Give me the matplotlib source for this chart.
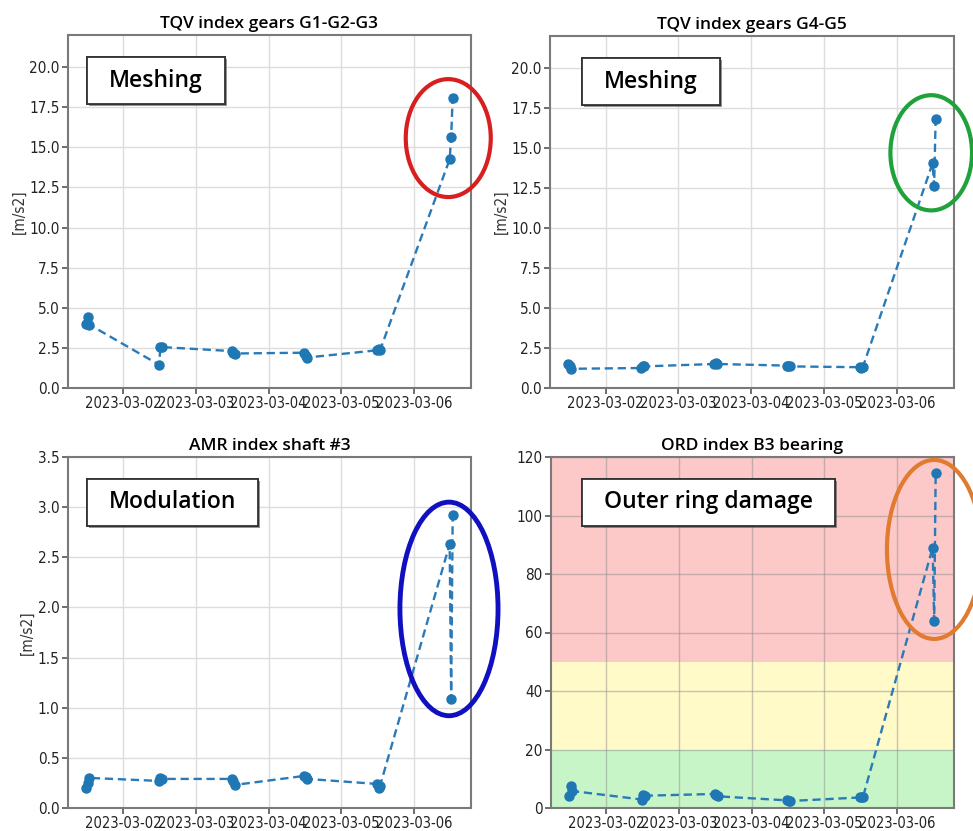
import numpy as np
import pandas as pd
import matplotlib
matplotlib.use('Agg')
import matplotlib.pyplot as plt
import matplotlib.dates as mdates
from matplotlib.patches import Ellipse, Rectangle
from matplotlib import patheffects as pe
from matplotlib import font_manager as fm

# look for a narrow/condensed face for the tick labels
cands = []
for f in fm.fontManager.ttflist:
    key = (f.name + ' ' + f.fname + ' ' + str(f.stretch)).lower()
    if ('condensed' in key or 'narrow' in key) and 'semicondensed' not in key.replace('-', '') \
            and f.style == 'normal':
        cands.append(f)
cands.sort(key=lambda f: (abs((f.weight if isinstance(f.weight, int) else 400) - 350),
                          'extra' in f.fname.lower()))
names = set(f.name for f in fm.fontManager.ttflist)
title_font = 'Open Sans' if 'Open Sans' in names else 'DejaVu Sans'
if cands:
    tick_fp = fm.FontProperties(fname=cands[0].fname)
    xt_size, yt_size = 10.5, 11
    print("condensed:", cands[0].fname)
else:
    tick_fp = fm.FontProperties(family=title_font)
    xt_size, yt_size = 8, 9
    print("no condensed font")

# ---- data (3 readings per day, 6 days) ----
days = ['2023-03-01', '2023-03-02', '2023-03-03', '2023-03-04', '2023-03-05', '2023-03-06']
hours = ['11:45', '12:15', '12:45']
times = pd.to_datetime([f"{d} {h}" for d in days for h in hours])

tqv_g123 = [4.0, 4.45, 3.95,
            1.45, 2.55, 2.55,
            2.3, 2.2, 2.15,
            2.2, 2.0, 1.9,
            2.35, 2.45, 2.35,
            14.25, 15.65, 18.1]
tqv_g45 = [1.5, 1.35, 1.2,
           1.25, 1.4, 1.35,
           1.5, 1.55, 1.5,
           1.4, 1.35, 1.35,
           1.3, 1.25, 1.3,
           14.05, 12.65, 16.8]
amr_s3 = [0.2, 0.25, 0.3,
          0.27, 0.3, 0.29,
          0.29, 0.27, 0.23,
          0.32, 0.31, 0.29,
          0.24, 0.2, 0.22,
          2.63, 1.09, 2.92]
ord_b3 = [4.2, 7.4, 5.8,
          2.9, 4.5, 4.2,
          4.8, 4.3, 4.0,
          2.6, 2.5, 2.4,
          3.6, 3.9, 3.8,
          89.0, 64.0, 114.5]

titles = ['TQV index gears G1-G2-G3', 'TQV index gears G4-G5',
          'AMR index shaft #3', 'ORD index B3 bearing']
labels = ['Meshing', 'Meshing', 'Modulation', 'Outer ring damage']
series = [tqv_g123, tqv_g45, amr_s3, ord_b3]
ylims = [(0, 22), (0, 22), (0, 3.5), (0, 120)]
yticks = [np.arange(0, 20.1, 2.5), np.arange(0, 20.1, 2.5), np.arange(0, 3.51, 0.5), np.arange(0, 121, 20)]
ytick_fmt = ['{:.1f}', '{:.1f}', '{:.1f}', '{:.0f}']
ylabels = ['[m/s2]', '[m/s2]', '[m/s2]', '']
# highlight ellipses: vertical span (data units), width in days
circle_colors = ['#d81f1f', '#1fa23c', '#1010c0', '#e07b30']
circle_span = [(11.9, 19.25), (11.1, 18.3), (0.92, 3.05), (57.8, 119.0)]
circle_w = [1.17, 1.12, 1.35, 1.3]
circle_dx = [-0.04, -0.04, -0.03, 0.0]
circle_lw = [3, 3, 3.5, 3]
# zones for the bearing panel
zone_edges = [0, 20, 50, 120]
zone_colors = ['#c8f5c8', '#fffac8', '#fdc8c8']

# layout (pixels)
W, H = 973, 831
boxes = [(68, 35, 471, 388), (550, 36, 954, 388),
         (68, 457, 471, 808), (551, 457, 954, 808)]
label_x0 = [19, 32, 19, 31]   # px from axes left
label_top = 22                # px below axes top
label_h = 47
label_hpad = 22

fig = plt.figure(figsize=(W / 100, H / 100), dpi=100)
axes = []
texts = []

for i in range(4):
    l, t, r, b = boxes[i]
    ax = fig.add_axes([l / W, 1 - b / H, (r - l) / W, (b - t) / H])
    axes.append(ax)
    y = np.array(series[i])

    if i == 3:
        for k in range(3):
            ax.axhspan(zone_edges[k], zone_edges[k + 1], color=zone_colors[k], zorder=0, lw=0)

    ax.plot(times, y, ls='--', marker='o', color='#2a7ab8', ms=6.5, lw=1.7,
            dashes=(3.5, 2), markeredgewidth=0, zorder=3)
    ax.plot(times, y, ls='none', marker='o', color='#1f77b4', ms=6.5, zorder=4)

    ax.set_ylim(*ylims[i])
    ax.set_yticks(yticks[i])
    ax.set_yticklabels([ytick_fmt[i].format(v) for v in yticks[i]])
    xticks = mdates.date2num(pd.to_datetime(days[1:]))
    ax.set_xticks(xticks)
    ax.xaxis.set_major_formatter(mdates.DateFormatter('%Y-%m-%d'))

    if i == 3:
        ax.grid(True, color='#909090', lw=1, alpha=0.5)
    else:
        ax.grid(True, color='#dcdcdc', lw=1)
    ax.set_axisbelow(True)
    for s in ax.spines.values():
        s.set_color('#7a7a7a')
        s.set_linewidth(1.5)
    ax.tick_params(colors='#555555', length=4, width=1.2, pad=2)
    for lab in ax.get_xticklabels():
        lab.set_fontproperties(tick_fp)
        lab.set_fontsize(xt_size)
        lab.set_color('#222222')
    for lab in ax.get_yticklabels():
        lab.set_fontproperties(tick_fp)
        lab.set_fontsize(yt_size)
        lab.set_color('#222222')
    if ylabels[i]:
        ax.set_ylabel(ylabels[i], fontproperties=tick_fp, fontsize=yt_size, color='#333333', labelpad=2)

    ax.set_title(titles[i], fontfamily=title_font, fontweight='semibold', fontsize=12.5, pad=5)

    # ellipse around the last day's readings
    lo, hi = circle_span[i]
    last_x = mdates.date2num(times[-3:]).mean() + circle_dx[i]
    ell = Ellipse((last_x, (lo + hi) / 2), circle_w[i], hi - lo, fill=False, ec=circle_colors[i],
                  lw=circle_lw[i], clip_on=False, zorder=7)
    ax.add_patch(ell)

    txt = ax.text(0, 0, labels[i], transform=ax.transAxes, ha='center', va='center',
                  fontfamily=title_font, fontweight='semibold', fontsize=16.5, zorder=9)
    texts.append(txt)

# boxes behind the labels, sized from the rendered text
fig.canvas.draw()
renderer = fig.canvas.get_renderer()
for i, ax in enumerate(axes):
    txt = texts[i]
    tw = txt.get_window_extent(renderer).width
    aw = ax.bbox.width
    ah = ax.bbox.height
    bw = tw + 2 * label_hpad
    x0 = label_x0[i] / aw
    y1 = 1 - label_top / ah
    y0 = y1 - label_h / ah
    rect = Rectangle((x0, y0), bw / aw, label_h / ah, transform=ax.transAxes,
                     fc='white', ec='#333333', lw=1.3, zorder=8)
    rect.set_path_effects([pe.withSimplePatchShadow(offset=(1.5, -1.5), alpha=0.6), pe.Normal()])
    ax.add_patch(rect)
    txt.set_position((x0 + bw / aw / 2, (y0 + y1) / 2))

fig.savefig('out.png', dpi=100)
